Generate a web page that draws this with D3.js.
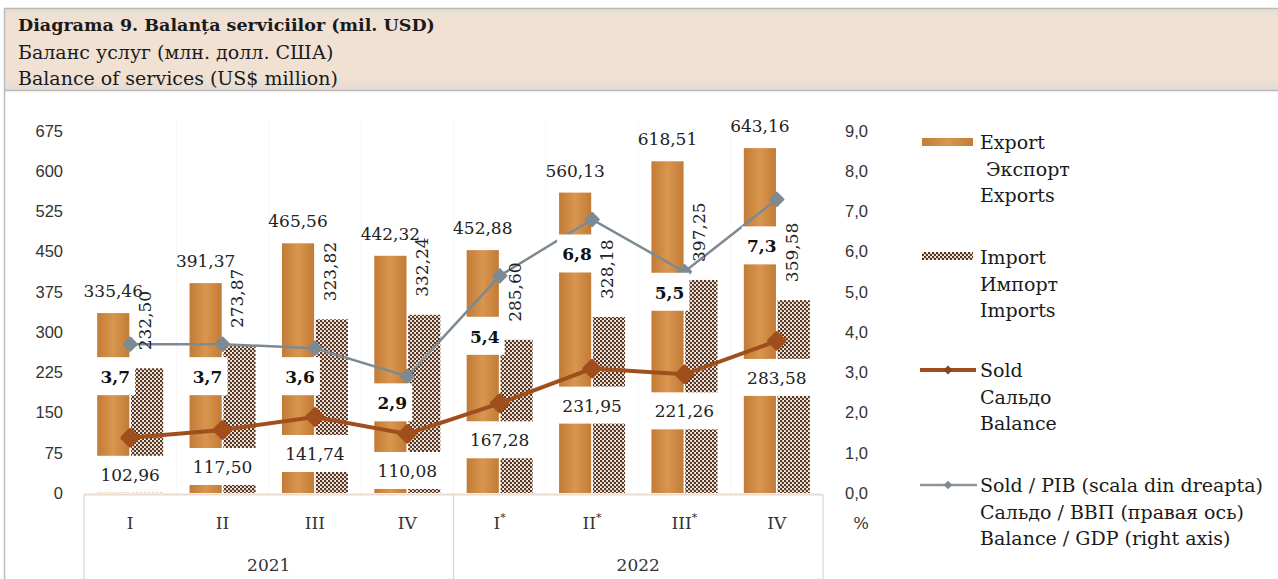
<!DOCTYPE html>
<html>
<head>
<meta charset="utf-8">
<script src="https://cdn.jsdelivr.net/npm/d3@7"></script>
<style>
  html, body { margin: 0; padding: 0; background: #fff; }
  svg { display: block; font-family: "DejaVu Serif", serif; }
</style>
</head>
<body>
<svg id="chart" width="1278" height="579"></svg>
<script>
// data
const quarters = ["I", "II", "III", "IV", "I", "II", "III", "IV"];
const prelim = [false, false, false, false, true, true, true, false];
const years = ["2021", "2022"];
const exportsVal = [335.46, 391.37, 465.56, 442.32, 452.88, 560.13, 618.51, 643.16];
const importsVal = [232.50, 273.87, 323.82, 332.24, 285.60, 328.18, 397.25, 359.58];
const balanceVal = [102.96, 117.50, 141.74, 110.08, 167.28, 231.95, 221.26, 283.58];
const balanceGdp = [3.7, 3.7, 3.6, 2.9, 5.4, 6.8, 5.5, 7.3];
const leftTicks = [0, 75, 150, 225, 300, 375, 450, 525, 600, 675];
const rightTicks = [0, 1, 2, 3, 4, 5, 6, 7, 8, 9];

// label placement for the % labels (manual, like in the source)
const gdpLabelDy = [33, 33, 29, 27, 61, 35, 21, 47];

const ro = d3.formatLocale({decimal: ",", thousands: " ", grouping: [3], currency: ["", ""]});
const f2 = ro.format(".2f"), f1 = ro.format(".1f");

const svg = d3.select("#chart");
const defs = svg.append("defs");

// export fill
const g1 = defs.append("linearGradient").attr("id", "expGrad").attr("x1", 0).attr("x2", 1).attr("y1", 0).attr("y2", 0);
g1.append("stop").attr("offset", "0%").attr("stop-color", "#c37b36");
g1.append("stop").attr("offset", "50%").attr("stop-color", "#d8964f");
g1.append("stop").attr("offset", "100%").attr("stop-color", "#c37b36");

// import fill : checkered dots
const pat = defs.append("pattern").attr("id", "impPat").attr("patternUnits", "userSpaceOnUse")
  .attr("width", 4).attr("height", 4);
pat.append("rect").attr("width", 4).attr("height", 4).attr("fill", "#fbf6f1");
pat.append("circle").attr("cx", 1).attr("cy", 1).attr("r", 1.3).attr("fill", "#5a3723");
pat.append("circle").attr("cx", 3).attr("cy", 3).attr("r", 1.3).attr("fill", "#5a3723");

// title band
const tg = defs.append("linearGradient").attr("id", "titleGrad").attr("x1", 0).attr("x2", 0).attr("y1", 0).attr("y2", 1);
tg.append("stop").attr("offset", "0%").attr("stop-color", "#e6dcd4");
tg.append("stop").attr("offset", "15%").attr("stop-color", "#f1e1d3");
tg.append("stop").attr("offset", "85%").attr("stop-color", "#f1e1d3");
tg.append("stop").attr("offset", "100%").attr("stop-color", "#e4dbd4");

svg.append("rect").attr("x", 4).attr("y", 8).attr("width", 1280).attr("height", 82).attr("fill", "url(#titleGrad)");
svg.append("line").attr("x1", 4).attr("x2", 1278).attr("y1", 8.5).attr("y2", 8.5).attr("stroke", "#b9b9b9").attr("stroke-width", 1.5);
svg.append("line").attr("x1", 4).attr("x2", 1278).attr("y1", 90.5).attr("y2", 90.5).attr("stroke", "#b9b9b9").attr("stroke-width", 1.5);
svg.append("line").attr("x1", 4.5).attr("x2", 4.5).attr("y1", 8).attr("y2", 579).attr("stroke", "#bdbdbd").attr("stroke-width", 1.5);

const titles = ["Diagrama 9. Balanța serviciilor (mil. USD)", "Баланс услуг (млн. долл. США)", "Balance of services (US$ million)"];
svg.selectAll(".title").data(titles).enter().append("text")
  .attr("x", 18).attr("y", (d, i) => 25 + i * 26.5)
  .attr("dominant-baseline", "central")
  .style("font-size", (d, i) => i == 0 ? "17.5px" : "19px").style("fill", "#1a1a1a")
  .style("font-weight", (d, i) => i == 0 ? "bold" : "normal")
  .text(d => d);

// scales
const x = d3.scaleBand().domain(d3.range(quarters.length)).range([84, 823]);
const sub = d3.scaleBand().domain(["exp", "imp"]).range([-33, 33]).paddingInner(0.05);
const yL = d3.scaleLinear().domain([0, 675]).range([493, 131]);
const yR = d3.scaleLinear().domain([0, 9]).range([493, 131]);
const cx = i => x(i) + x.bandwidth() / 2;

// faint separators + axis
svg.selectAll(".sep").data(d3.range(quarters.length - 1)).enter().append("line")
  .attr("x1", i => x(i + 1)).attr("x2", i => x(i + 1)).attr("y1", 118).attr("y2", 494)
  .attr("stroke", "#f7f7f7").attr("stroke-width", 1);
svg.append("line").attr("x1", 84).attr("x2", 823).attr("y1", 494.5).attr("y2", 494.5).attr("stroke", "#eadccf").attr("stroke-width", 2);
[84, x(4), 823].forEach(v => {
  svg.append("line").attr("x1", v).attr("x2", v).attr("y1", 495).attr("y2", 579).attr("stroke", "#d6d6d6").attr("stroke-width", 1.2);
});

// left axis
const axL = svg.append("g").attr("transform", "translate(63,0)")
  .call(d3.axisLeft(yL).tickValues(leftTicks).tickSize(0).tickPadding(0).tickFormat(d3.format("d")));
axL.select(".domain").remove();
axL.selectAll("text").style("font-size", "16.5px").style("fill", "#333").style("font-family", null);

// right axis
const axR = svg.append("g").attr("transform", "translate(845,0)")
  .call(d3.axisRight(yR).tickValues(rightTicks).tickSize(0).tickPadding(0).tickFormat(f1));
axR.select(".domain").remove();
axR.selectAll("text").style("font-size", "16.5px").style("fill", "#333").style("font-family", null);
svg.append("text").attr("x", 861).attr("y", 523).attr("text-anchor", "middle").attr("dominant-baseline", "central")
  .style("font-size", "16.5px").style("fill", "#333").text("%");

// bars
const bars = svg.append("g");
bars.selectAll(".exp").data(exportsVal).enter().append("rect")
  .attr("x", (d, i) => cx(i) + sub("exp")).attr("width", sub.bandwidth())
  .attr("y", d => yL(d)).attr("height", d => yL(0) - yL(d))
  .attr("fill", "url(#expGrad)");
bars.selectAll(".imp").data(importsVal).enter().append("rect")
  .attr("x", (d, i) => cx(i) + sub("imp")).attr("width", sub.bandwidth())
  .attr("y", d => yL(d)).attr("height", d => yL(0) - yL(d))
  .attr("fill", "url(#impPat)");

// balance / GDP line (right axis)
const gdpLine = d3.line().x((d, i) => cx(i)).y(d => yR(d));
svg.append("path").datum(balanceGdp).attr("d", gdpLine)
  .attr("fill", "none").attr("stroke", "#7d8a93").attr("stroke-width", 2.5);
svg.selectAll(".gdpPt").data(balanceGdp).enter().append("path")
  .attr("d", d3.symbol(d3.symbolSquare, 90))
  .attr("transform", (d, i) => `translate(${cx(i)},${yR(d)}) rotate(45)`)
  .attr("fill", "#7d8a93").attr("stroke", "#7d8a93").attr("stroke-width", 2).attr("stroke-linejoin", "round");

// balance line
const balLine = d3.line().x((d, i) => cx(i)).y(d => yL(d));
svg.append("path").datum(balanceVal).attr("d", balLine)
  .attr("fill", "none").attr("stroke", "#a04f1c").attr("stroke-width", 4);
svg.selectAll(".balPt").data(balanceVal).enter().append("path")
  .attr("d", d3.symbol(d3.symbolSquare, 120))
  .attr("transform", (d, i) => `translate(${cx(i)},${yL(d)}) rotate(45)`)
  .attr("fill", "#a04f1c").attr("stroke", "#a04f1c").attr("stroke-width", 4).attr("stroke-linejoin", "round");

// labels
const lab = svg.append("g").style("font-size", "17px").style("fill", "#222");

// balance value labels with white boxes
balanceVal.forEach((d, i) => {
  lab.append("rect").attr("x", cx(i) - 37).attr("y", yL(d) + 18).attr("width", 74).attr("height", 37).attr("fill", "#fff");
  lab.append("text").attr("x", cx(i)).attr("y", yL(d) + 37).attr("text-anchor", "middle").attr("dominant-baseline", "central").text(f2(d));
});

// % labels with white boxes
balanceGdp.forEach((d, i) => {
  const ly = yR(d) + gdpLabelDy[i];
  lab.append("rect").attr("x", cx(i) - 15 - 20).attr("y", ly - 20).attr("width", 40).attr("height", 38).attr("fill", "#fff");
  lab.append("text").attr("x", cx(i) - 15).attr("y", ly).attr("text-anchor", "middle").attr("dominant-baseline", "central")
    .style("font-weight", "bold").style("fill", "#111").text(f1(d));
});

// export labels
lab.selectAll(".expLab").data(exportsVal).enter().append("text")
  .attr("x", (d, i) => cx(i) + sub("exp") + sub.bandwidth() / 2)
  .attr("y", d => yL(d) - 22)
  .attr("text-anchor", "middle").attr("dominant-baseline", "central")
  .text(d => f2(d));

// import labels, rotated
lab.selectAll(".impLab").data(importsVal).enter().append("text")
  .attr("transform", (d, i) => `translate(${cx(i) + sub("imp") + sub.bandwidth() / 2 - 2},${yL(d) - 18}) rotate(-90)`)
  .attr("text-anchor", "start").attr("dominant-baseline", "central")
  .text(d => f2(d));

// x axis labels
const xl = svg.append("g").style("font-size", "17px").style("fill", "#333");
quarters.forEach((q, i) => {
  const t = xl.append("text").attr("x", cx(i)).attr("y", 523).attr("text-anchor", "middle").attr("dominant-baseline", "central");
  t.append("tspan").text(q);
  if (prelim[i]) t.append("tspan").attr("dy", -6).style("font-size", "11px").text("*");
});
years.forEach((yv, k) => {
  xl.append("text").attr("x", (x(k * 4) + x(k * 4 + 3) + x.bandwidth()) / 2).attr("y", 565)
    .attr("text-anchor", "middle").attr("dominant-baseline", "central").text(yv);
});

// legend
const leg = svg.append("g").style("font-size", "19px").style("fill", "#1a1a1a");
leg.append("rect").attr("x", 922).attr("y", 138).attr("width", 51).attr("height", 8).attr("fill", "url(#expGrad)");
leg.append("rect").attr("x", 922).attr("y", 252).attr("width", 51).attr("height", 8).attr("fill", "url(#impPat)");
leg.append("line").attr("x1", 920).attr("x2", 976).attr("y1", 370).attr("y2", 370).attr("stroke", "#a04f1c").attr("stroke-width", 4);
leg.append("path").attr("d", d3.symbol(d3.symbolSquare, 40)).attr("transform", "translate(948,370) rotate(45)").attr("fill", "#8a4418");
leg.append("line").attr("x1", 920).attr("x2", 977).attr("y1", 485).attr("y2", 485).attr("stroke", "#8c969c").attr("stroke-width", 2.5);
leg.append("path").attr("d", d3.symbol(d3.symbolSquare, 36)).attr("transform", "translate(948,485) rotate(45)").attr("fill", "#7d8a93");

const legTexts = [
  ["Export", " Экспорт", "Exports"],
  ["Import", "Импорт", "Imports"],
  ["Sold", "Сальдо", "Balance"],
  ["Sold / PIB (scala din dreapta)", "Сальдо / ВВП (правая ось)", "Balance / GDP (right axis)"]
];
const legY = [142, 257, 370, 485];
legTexts.forEach((lines, k) => {
  lines.forEach((s, j) => {
    leg.append("text").attr("x", 980).attr("y", legY[k] + j * 26.5).attr("dominant-baseline", "central")
      .attr("xml:space", "preserve").style("white-space", "pre").text(s);
  });
});
</script>
</body>
</html>
